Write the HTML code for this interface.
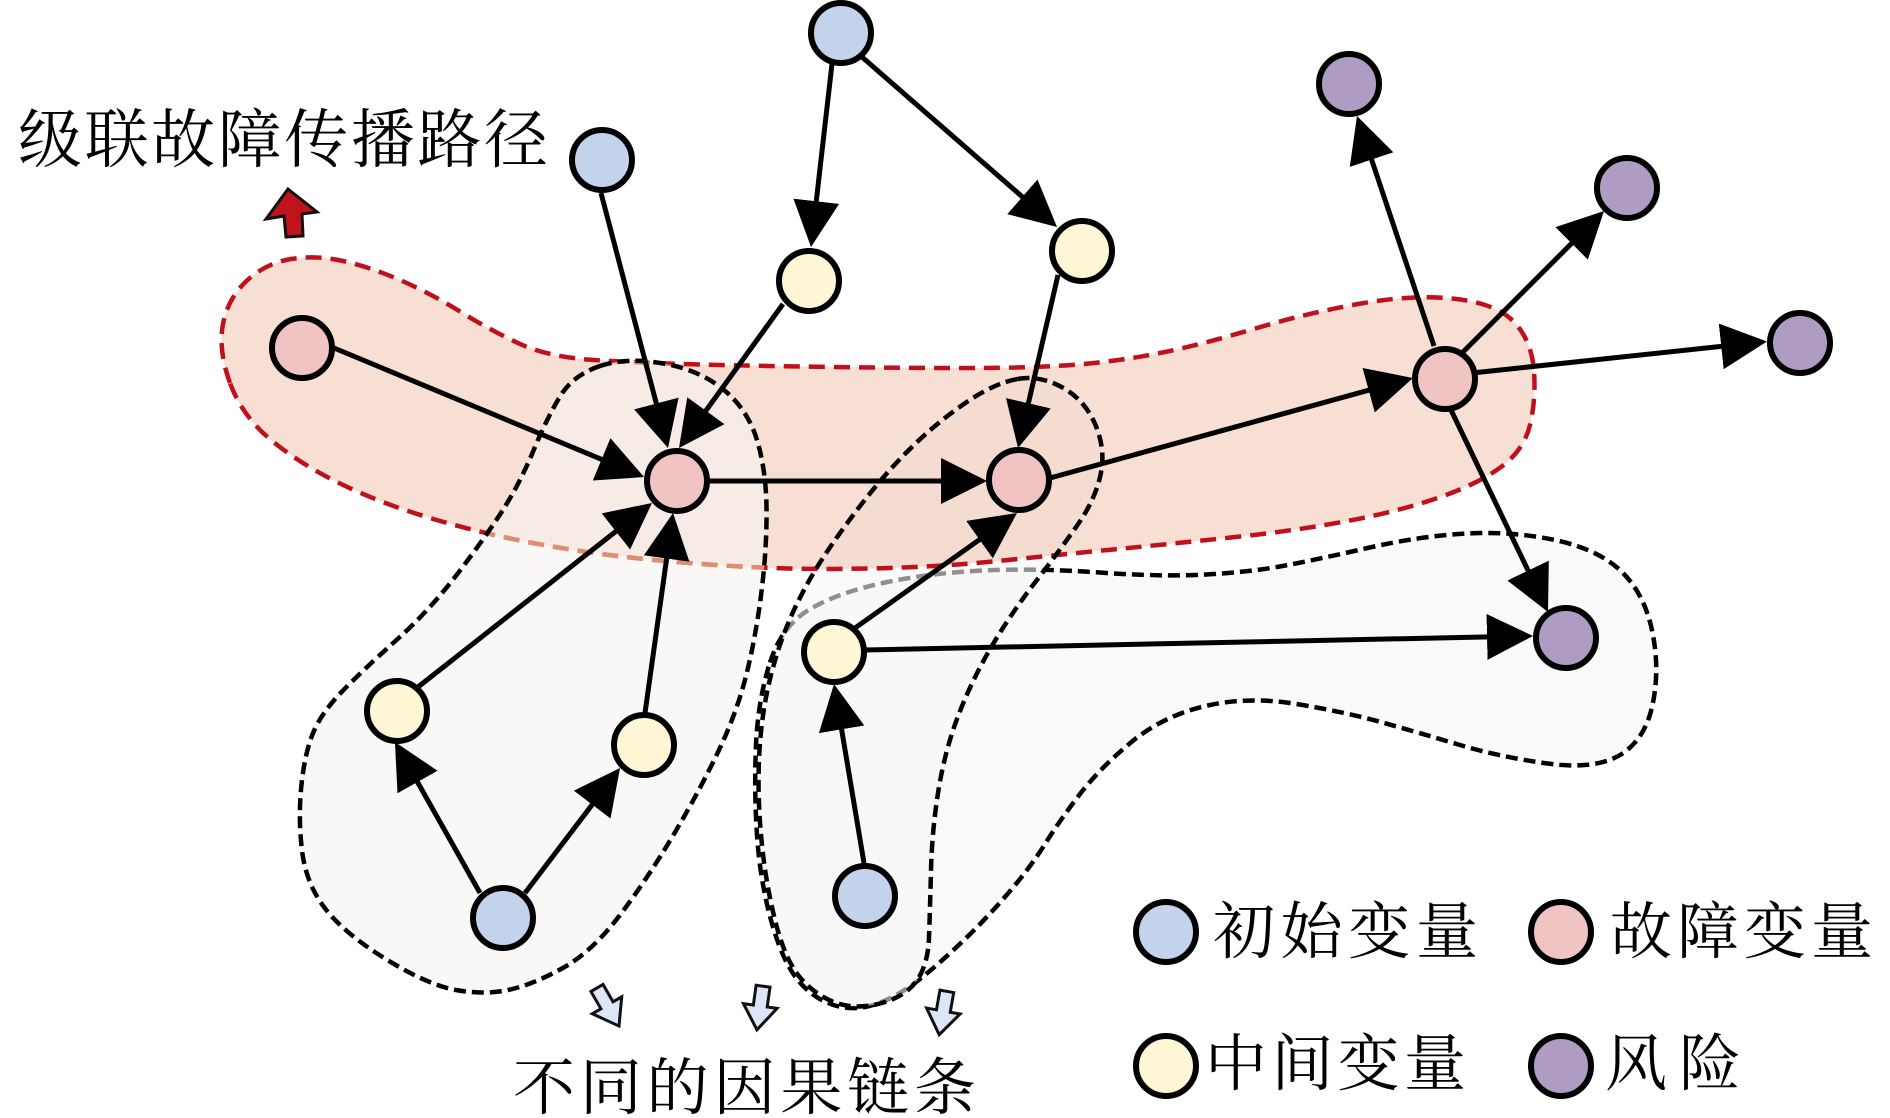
<!DOCTYPE html>
<html>
<head>
<meta charset="utf-8">
<style>
  html,body{margin:0;padding:0;background:#fff;}
  svg{display:block;}
  .t{font-family:"Liberation Serif","Noto Serif CJK SC","Noto Sans CJK SC",serif;fill:#000;}
  .e{stroke:#000;stroke-width:5;fill:none;marker-end:url(#ah);}
  .n{stroke:#000;stroke-width:6;}
  .b{fill:#c3d3ec;} .y{fill:#fff6d6;} .p{fill:#efc4c2;} .v{fill:#ae9cc3;}
  .bd{fill:none;stroke:#000;stroke-width:4.5;stroke-dasharray:12 6;}
</style>
</head>
<body>
<svg width="1890" height="1118" viewBox="0 0 1890 1118" xmlns="http://www.w3.org/2000/svg">
<defs>
  <marker id="ah" markerUnits="userSpaceOnUse" markerWidth="46" markerHeight="46" viewBox="0 0 46 46" refX="40" refY="23" orient="auto">
    <path d="M0,0 L46,23 L0,46 z" fill="#000"/>
  </marker>
  <path id="pRed" d="M230,383 Q218,350 223,324 Q228,298 247,280.5 Q266,263 291,259 Q316,255 343,261 Q370,267 400,280 Q430,293 460,311.5 Q490,330 519,343.5 Q548,357 594,360 Q640,363 700,364.5 Q760,366 830,367 Q900,368 967.5,368 Q1035,368 1077.5,364.5 Q1120,361 1160,353 Q1200,345 1253.5,329 Q1307,313 1361,303.5 Q1415,294 1456.5,299 Q1498,304 1515,323 Q1532,342 1534,371 Q1536,400 1530,425 Q1524,450 1501,467 Q1478,484 1439,497.5 Q1400,511 1350,520.5 Q1300,530 1240,536.5 Q1180,543 1123,548.5 Q1066,554 1003,560.5 Q940,567 870,568.5 Q800,570 740,566.5 Q680,563 630,557.5 Q580,552 530,542.5 Q480,533 430,518 Q380,503 340,483.5 Q300,464 271,440 Q242,416 230,383 Z"/>
  <path id="pLeft" d="M600,366 Q627,357 663.5,363.5 Q700,370 724,390 Q748,410 757,440 Q766,470 766.5,507.5 Q767,545 762,587.5 Q757,630 747.5,670 Q738,710 719,750 Q700,790 674,834 Q648,878 620,915 Q592,952 562,968.5 Q532,985 508,990 Q484,995 456,990 Q428,985 386.5,959.5 Q345,934 325.5,909 Q306,884 302,850.5 Q298,817 301.5,784.5 Q305,752 313.5,732 Q322,712 342.5,691 Q363,670 396.5,640 Q430,610 458.5,572.5 Q487,535 503.5,509 Q520,483 533.5,450.5 Q547,418 560,396.5 Q573,375 600,366 Z"/>
  <path id="pB" d="M1017.5,379 Q1040,375 1062.5,387.5 Q1085,400 1095.5,425 Q1106,450 1100.5,475 Q1095,500 1077.5,525 Q1060,550 1035,582.5 Q1010,615 991,647.5 Q972,680 958.5,715 Q945,750 938.5,790 Q932,830 931,870 Q930,910 929,937.5 Q928,965 916.5,981 Q905,997 880,1003.5 Q855,1010 835,1002.5 Q815,995 800,977.5 Q785,960 775,920 Q765,880 761,835 Q757,790 759.5,750 Q762,710 771,675 Q780,640 794,610 Q808,580 826.5,552.5 Q845,525 867.5,496.5 Q890,468 915,444 Q940,420 967.5,401.5 Q995,383 1017.5,379 Z"/>
  <clipPath id="clipLeft"><use href="#pLeft"/></clipPath>
</defs>

<!-- Right L-shaped blob (C) -->
<path d="M770,662.5 Q782,625 811,608.5 Q840,592 885,582.5 Q930,573 983,570.5 Q1036,568 1099.5,572.5 Q1163,577 1206.5,574.5 Q1250,572 1282.5,566 Q1315,560 1367.5,548 Q1420,536 1467,533.5 Q1514,531 1557,540.5 Q1600,550 1622.5,572.5 Q1645,595 1652.5,632.5 Q1660,670 1652.5,705 Q1645,740 1620,755 Q1595,770 1547.5,763.5 Q1500,757 1460,745 Q1420,733 1382.5,722.5 Q1345,712 1296.5,704 Q1248,696 1205.5,706 Q1163,716 1131.5,742 Q1100,768 1080,794 Q1060,820 1045,844 Q1030,868 1007.5,894 Q985,920 962.5,941.5 Q940,963 920,979 Q900,995 877.5,1003.5 Q855,1012 833.5,1005 Q812,998 797,979 Q782,960 771,920 Q760,880 757,835 Q754,790 756,745 Q758,700 770,662.5 Z"
  fill="#f9f9f9" stroke="#000" stroke-width="4.5" stroke-dasharray="12 6"/>

<!-- Middle tilted blob (B) fill -->
<use href="#pB" fill="rgba(247,247,247,0.58)" stroke="none"/>

<!-- Red cascading region -->
<use href="#pRed" fill="rgba(236,175,145,0.40)" stroke="#c0101c" stroke-width="4.5" stroke-dasharray="16 9"/>

<!-- Middle blob stroke -->
<use href="#pB" class="bd"/>

<!-- Left blob -->
<use href="#pLeft" fill="rgba(246,244,242,0.6)" stroke="none"/>
<g clip-path="url(#clipLeft)">
  <use href="#pRed" fill="none" stroke="#dc8f70" stroke-width="4.5" stroke-dasharray="16 9"/>
</g>
<use href="#pLeft" class="bd"/>

<!-- Edges -->
<line class="e" x1="832" y1="64" x2="811.7" y2="241.0"/>
<line class="e" x1="862" y1="57" x2="1052.5" y2="223.1"/>
<line class="e" x1="601" y1="193" x2="666.5" y2="442.2"/>
<line class="e" x1="783" y1="304" x2="682.5" y2="443.1"/>
<line class="e" x1="334" y1="348" x2="638.5" y2="474.7"/>
<line class="e" x1="418" y1="687" x2="647.3" y2="506.7"/>
<line class="e" x1="645" y1="713" x2="672.2" y2="518.9"/>
<line class="e" x1="709" y1="481" x2="981" y2="481"/>
<line class="e" x1="1058" y1="275" x2="1019.4" y2="442.2"/>
<line class="e" x1="855" y1="628" x2="1012.1" y2="516.5"/>
<line class="e" x1="1050" y1="478" x2="1407.2" y2="379.6"/>
<line class="e" x1="1434" y1="346" x2="1358.9" y2="121.7"/>
<line class="e" x1="1463" y1="352" x2="1599.8" y2="215.2"/>
<line class="e" x1="1472" y1="373" x2="1761.0" y2="342.1"/>
<line class="e" x1="1451" y1="410" x2="1545.4" y2="606.6"/>
<line class="e" x1="864" y1="650" x2="1527" y2="636.1"/>
<line class="e" x1="480" y1="893" x2="397.9" y2="747.2"/>
<line class="e" x1="525" y1="893" x2="616.4" y2="772.8"/>
<line class="e" x1="864" y1="863" x2="835" y2="689.9"/>

<!-- Nodes -->
<circle class="n b" cx="841" cy="33" r="30"/>
<circle class="n b" cx="602" cy="160" r="30"/>
<circle class="n y" cx="809" cy="281" r="30"/>
<circle class="n y" cx="1082" cy="251" r="30"/>
<circle class="n p" cx="302" cy="348" r="30"/>
<circle class="n p" cx="677" cy="481" r="30"/>
<circle class="n p" cx="1019" cy="480" r="30"/>
<circle class="n p" cx="1445" cy="379" r="30"/>
<circle class="n v" cx="1349" cy="84" r="30"/>
<circle class="n v" cx="1627" cy="188" r="30"/>
<circle class="n v" cx="1800" cy="343" r="30"/>
<circle class="n v" cx="1566" cy="638" r="30"/>
<circle class="n y" cx="397" cy="711" r="30"/>
<circle class="n y" cx="644" cy="745" r="30"/>
<circle class="n b" cx="503" cy="918" r="30"/>
<circle class="n y" cx="834" cy="652" r="30"/>
<circle class="n b" cx="865" cy="896" r="30"/>

<!-- Red arrow -->
<polygon points="288,189 317,212 302,214 303,236 286,237 284,216 266,219" fill="#c0141c" stroke="#111" stroke-width="3" stroke-linejoin="miter"/>

<!-- Blue hollow arrows -->
<g fill="#dde6f6" stroke="#111" stroke-width="3" stroke-linejoin="miter">
  <polygon transform="translate(608,1007) rotate(-30)" points="-7,-22 7,-22 7,-2 17,-2 0,22 -17,-2 -7,-2"/>
  <polygon transform="translate(760,1008) rotate(8)" points="-7,-22 7,-22 7,-2 17,-2 0,22 -17,-2 -7,-2"/>
  <polygon transform="translate(943,1013) rotate(10)" points="-7,-22 7,-22 7,-2 17,-2 0,22 -17,-2 -7,-2"/>
</g>

<!-- Texts -->
<text class="t" x="18" y="162" font-size="64" textLength="530" lengthAdjust="spacing">级联故障传播路径</text>
<text class="t" x="513" y="1109" font-size="62" textLength="463" lengthAdjust="spacing">不同的因果链条</text>

<!-- Legend -->
<circle class="n b" cx="1166" cy="932" r="30"/>
<circle class="n p" cx="1561" cy="932" r="30"/>
<circle class="n y" cx="1166" cy="1066" r="30"/>
<circle class="n v" cx="1561" cy="1066" r="30"/>
<text class="t" x="1213" y="953" font-size="62" textLength="265" lengthAdjust="spacing">初始变量</text>
<text class="t" x="1610" y="953" font-size="62" textLength="263" lengthAdjust="spacing">故障变量</text>
<text class="t" x="1205" y="1085" font-size="62" textLength="261" lengthAdjust="spacing">中间变量</text>
<text class="t" x="1605" y="1085" font-size="62" textLength="136" lengthAdjust="spacing">风险</text>
</svg>
</body>
</html>
